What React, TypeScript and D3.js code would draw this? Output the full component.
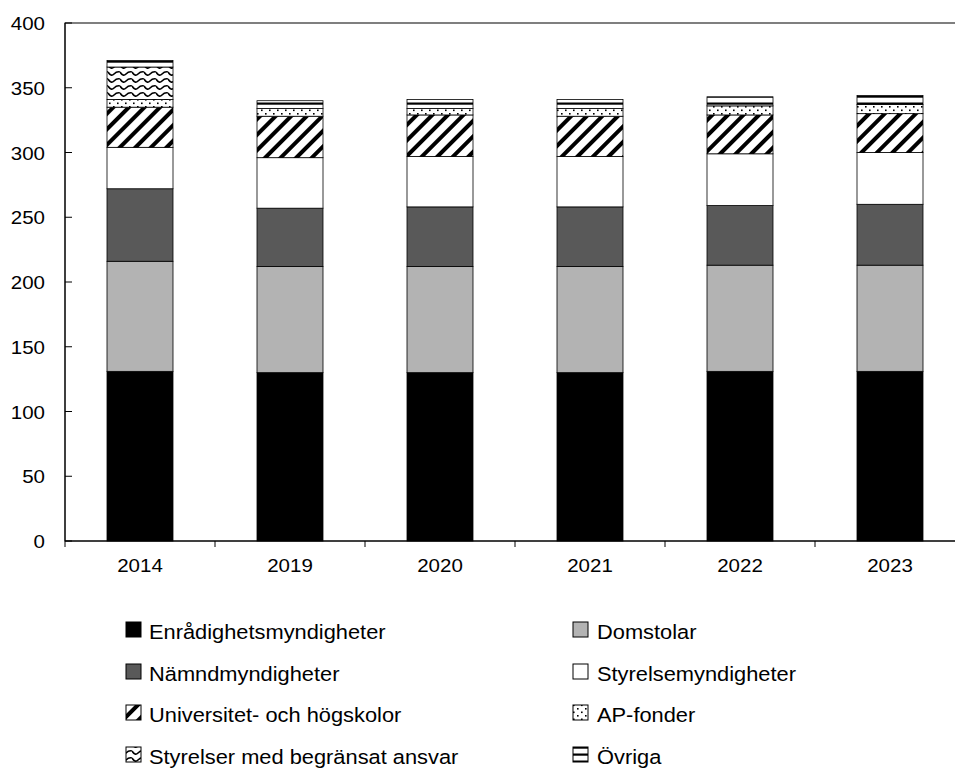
import React from 'react';
import * as d3 from 'd3';

const years = ['2014', '2019', '2020', '2021', '2022', '2023'];
const enradighet = [131, 130, 130, 130, 131, 131];
const domstolar = [85, 82, 82, 82, 82, 82];
const namnd = [56, 45, 46, 46, 46, 47];
const styrelse = [32, 39, 39, 39, 40, 40];
const univ = [31, 32, 32, 31, 30, 30];
const apFonder = [6, 6, 5, 6, 7, 7];
const smba = [25, 0, 0, 0, 0, 0];
const ovriga = [5, 6, 7, 7, 7, 7];
const yTicks = [0, 50, 100, 150, 200, 250, 300, 350, 400];

const seriesNames = [
  'Enrådighetsmyndigheter',
  'Domstolar',
  'Nämndmyndigheter',
  'Styrelsemyndigheter',
  'Universitet- och högskolor',
  'AP-fonder',
  'Styrelser med begränsat ansvar',
  'Övriga',
];
const seriesValues = [enradighet, domstolar, namnd, styrelse, univ, apFonder, smba, ovriga];
const fills = ['#000000', '#b3b3b3', '#595959', '#ffffff', 'url(#pUniv)', 'url(#pAp)', 'url(#pWave)', 'url(#pOvr)'];

const W = 955;
const H = 769;
const left = 65;
const right = 965;
const top = 23;
const bottom = 541;
const FONT = 'Arial, "Liberation Sans", sans-serif';

export default function App() {
  const x = d3.scaleBand<string>().domain(years).range([left, right]).paddingInner(0.56).paddingOuter(0.28);
  const y = d3.scaleLinear().domain([0, 400]).range([bottom, top]);

  const table = years.map((yr, i) => {
    const row: any = { year: yr };
    seriesNames.forEach((n, k) => (row[n] = seriesValues[k][i]));
    return row;
  });
  const stacked = d3.stack<any>().keys(seriesNames)(table);

  const step = x.step();
  const boundaries = d3.range(years.length + 1).map((i) => left + i * step);

  const legendCols = [126, 573];
  const legendTextCols = [149, 597];
  const legendRowY = [622, 664, 705, 747];

  return (
    <svg width={W} height={H} style={{ position: 'absolute', left: 0, top: 0, background: '#fff' }} fontFamily={FONT}>
      <defs>
        <pattern id="pUniv" patternUnits="userSpaceOnUse" width="11" height="11" patternTransform="rotate(45)">
          <rect width="11" height="11" fill="#fff" />
          <rect x="0" y="0" width="4" height="11" fill="#000" />
        </pattern>
        <pattern id="pAp" patternUnits="userSpaceOnUse" width="8" height="7">
          <rect width="8" height="7" fill="#fff" />
          <rect x="1" y="1" width="1.6" height="1.6" fill="#000" />
          <rect x="5" y="4.5" width="1.6" height="1.6" fill="#000" />
        </pattern>
        <pattern id="pWave" patternUnits="userSpaceOnUse" width="12" height="7">
          <rect width="12" height="7" fill="#fff" />
          <path d="M0,2 Q3,7 6,4 T12,2" stroke="#000" strokeWidth="1.6" fill="none" />
        </pattern>
        <pattern id="pOvr" patternUnits="userSpaceOnUse" width="6" height="7">
          <rect width="6" height="7" fill="#fff" />
          <rect x="0" y="4.5" width="6" height="2.2" fill="#000" />
        </pattern>
      </defs>

      {/* plot area border */}
      <rect x={left} y={top} width={right - left} height={bottom - top} fill="none" stroke="#000" strokeWidth={1} />

      {/* bars */}
      {stacked.map((layer, k) => (
        <g key={k}>
          {layer.map((d, i) => {
            const v = d[1] - d[0];
            if (v <= 0) return null;
            return (
              <rect
                key={i}
                x={x(years[i])}
                y={y(d[1])}
                width={x.bandwidth()}
                height={y(d[0]) - y(d[1])}
                fill={fills[k]}
                stroke="#000"
                strokeWidth={0.8}
              />
            );
          })}
        </g>
      ))}

      {/* y axis */}
      <line x1={left} x2={left} y1={top} y2={bottom} stroke="#000" />
      {yTicks.map((t) => (
        <g key={t}>
          <line x1={left} x2={left + 7} y1={y(t)} y2={y(t)} stroke="#000" />
          <text
            transform={`translate(45,${y(t) + 7}) scale(1.08,1)`}
            textAnchor="end"
            fontSize={19}
            fill="#000"
          >
            {t}
          </text>
        </g>
      ))}

      {/* x axis */}
      <line x1={left} x2={right} y1={bottom} y2={bottom} stroke="#000" />
      {boundaries.map((bx, i) => (
        <line key={i} x1={bx} x2={bx} y1={bottom} y2={bottom + 6} stroke="#000" />
      ))}
      {years.map((yr) => (
        <text
          key={yr}
          transform={`translate(${(x(yr) as number) + x.bandwidth() / 2},${bottom + 31}) scale(1.08,1)`}
          textAnchor="middle"
          fontSize={19}
          fill="#000"
        >
          {yr}
        </text>
      ))}

      {/* legend */}
      {seriesNames.map((n, k) => {
        const col = k % 2;
        const row = Math.floor(k / 2);
        const sy = legendRowY[row];
        return (
          <g key={n}>
            <rect x={legendCols[col]} y={sy} width={15} height={15} fill={fills[k]} stroke="#000" strokeWidth={1} />
            <text
              transform={`translate(${legendTextCols[col]},${sy + 17}) scale(1.12,1)`}
              fontSize={19.5}
              fill="#000"
            >
              {n}
            </text>
          </g>
        );
      })}
    </svg>
  );
}
